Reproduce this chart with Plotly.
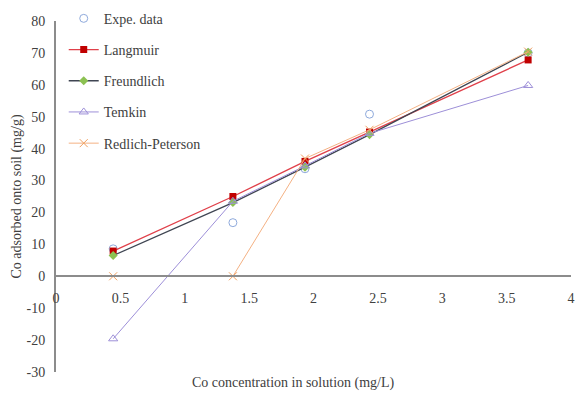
import plotly.graph_objects as go

x_vals = [0.444, 1.374, 1.934, 2.435, 3.667]
expe = [8.6, 16.8, 33.7, 50.8, 70.0]
langmuir = [7.9, 25.0, 36.0, 45.2, 67.8]
freundlich = [6.5, 23.1, 34.2, 44.4, 70.2]
temkin = [-19.6, 23.5, 34.6, 44.8, 59.8]
redlich = [0.0, 0.0, 36.9, 45.9, 70.4]

y_min, y_max = -30, 80
x_min, x_max = 0, 4
x_ticks = [0, 0.5, 1, 1.5, 2, 2.5, 3, 3.5, 4]
x_tick_text = ["0", "0.5", "1", "1.5", "2", "2.5", "3", "3.5", "4"]
y_ticks = [-30, -20, -10, 0, 10, 20, 30, 40, 50, 60, 70, 80]
y_tick_text = ["-30", "-20", "-10", "0", "10", "20", "30", "40", "50", "60", "70", "80"]

FONT = "Liberation Serif, Times New Roman, Times, serif"
TXT = "#404040"
CLEAR = "rgba(0,0,0,0)"

fig = go.Figure()

fig.add_trace(go.Scatter(
    x=x_vals, y=expe, mode="markers", name="Expe. data", legendgroup="a",
    marker=dict(symbol="circle-open", size=8, color="#8FAADC", line=dict(width=1))))
fig.add_trace(go.Scatter(
    x=x_vals, y=langmuir, mode="lines+markers", name="Langmuir", legendgroup="b",
    line=dict(color="#E0404A", width=1.3),
    marker=dict(symbol="square", size=7, color="#C00000")))
fig.add_trace(go.Scatter(
    x=x_vals, y=freundlich, mode="lines+markers", name="Freundlich", legendgroup="c",
    line=dict(color="#3F4552", width=1.3),
    marker=dict(symbol="diamond", size=7, color="#8CC152")))
fig.add_trace(go.Scatter(
    x=x_vals, y=temkin, mode="lines+markers", name="Temkin", legendgroup="d",
    line=dict(color="#9D8FD8", width=1),
    marker=dict(symbol="triangle-up-open", size=8, color="#9D8FD8", line=dict(width=1))))
fig.add_trace(go.Scatter(
    x=x_vals, y=redlich, mode="lines+markers", name="Redlich-Peterson", legendgroup="e",
    line=dict(color="#F4B183", width=1),
    marker=dict(symbol="x-thin-open", size=8, color="#F0A060", line=dict(width=1, color="#F0A060"))))

zero_pos = (0 - y_min) / (y_max - y_min)

fig.update_layout(
    width=578, height=394,
    margin=dict(l=56, r=3, t=16, b=22),
    paper_bgcolor="white", plot_bgcolor="white",
    font=dict(family=FONT, size=14, color=TXT),
    showlegend=True,
    legend=dict(x=0.015, y=1.052, xanchor="left", yanchor="top",
                bgcolor=CLEAR, font=dict(family=FONT, size=14, color=TXT),
                tracegroupgap=10, itemwidth=30),
    xaxis=dict(range=[x_min, x_max], tickvals=x_ticks, ticktext=x_tick_text,
               showgrid=False, zeroline=False, showline=True, linecolor="#8C8C8C", linewidth=2,
               anchor="free", position=zero_pos, ticks="outside", ticklen=9, tickcolor=CLEAR,
               ticklabeloverflow="allow",
               tickfont=dict(family=FONT, size=14, color=TXT)),
    yaxis=dict(range=[y_min, y_max], tickvals=y_ticks, ticktext=y_tick_text,
               showgrid=False, zeroline=False,
               showline=True, linecolor="#8C8C8C", linewidth=2,
               ticks="outside", ticklen=6, tickcolor=CLEAR,
               tickfont=dict(family=FONT, size=14, color=TXT),
               title=dict(text="Co adsorbed onto soil (mg/g)", standoff=2,
                          font=dict(family=FONT, size=14, color=TXT))),
    annotations=[dict(text="Co concentration in solution (mg/L)", xref="paper", yref="paper",
                      x=0.461, y=-0.032, xanchor="center", yanchor="middle", showarrow=False,
                      font=dict(family=FONT, size=14, color=TXT))],
)

fig.write_html("out.html")
